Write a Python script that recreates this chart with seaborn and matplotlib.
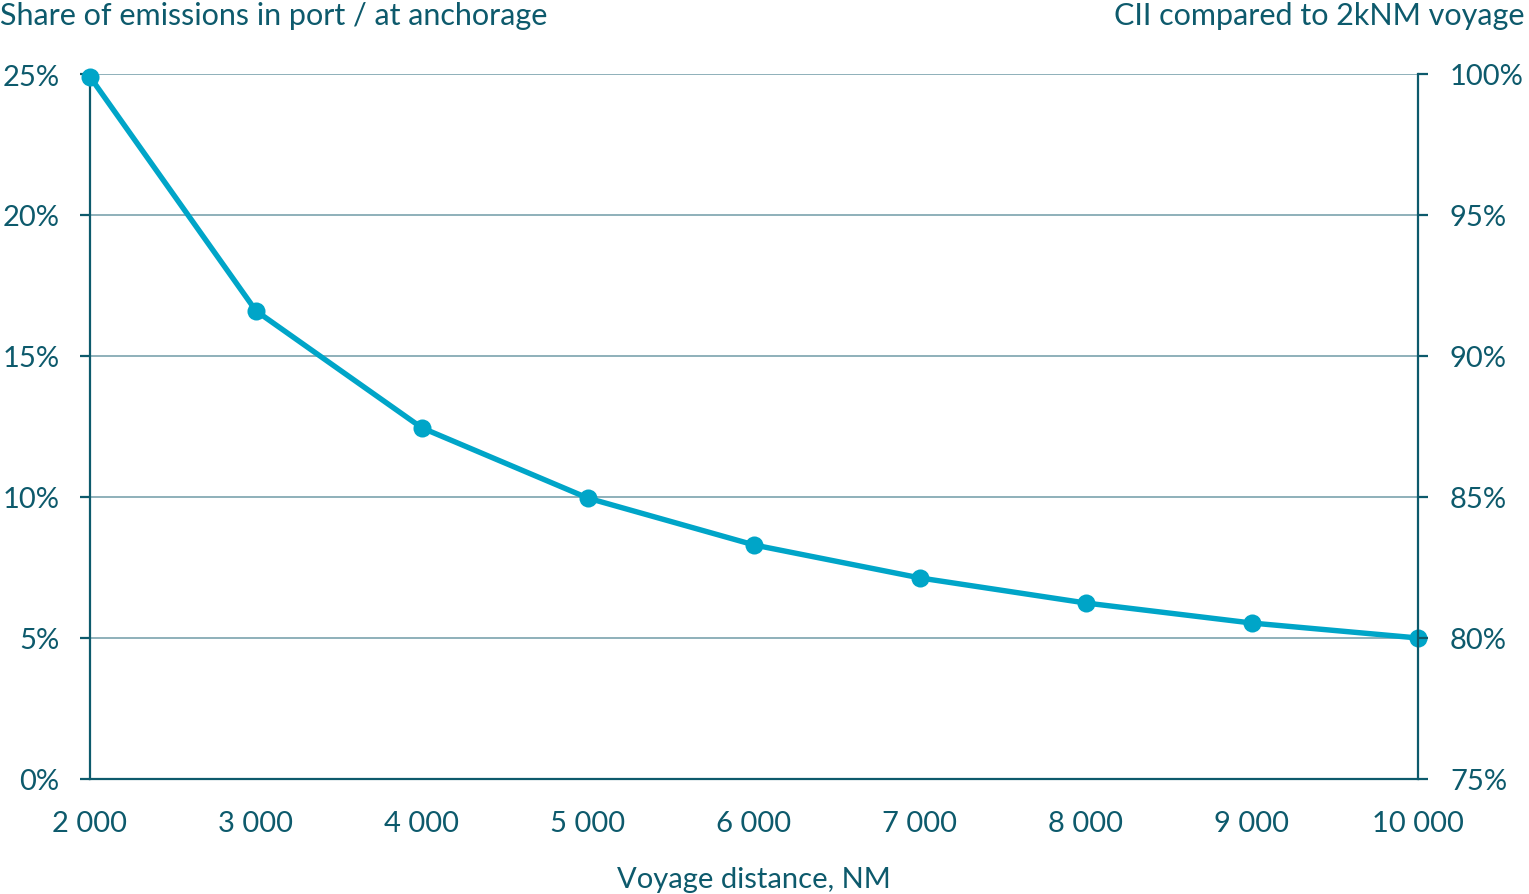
import matplotlib
matplotlib.use("Agg")
import matplotlib.pyplot as plt
import matplotlib.ticker as mticker
import seaborn as sns
import pandas as pd

distance = [2000, 3000, 4000, 5000, 6000, 7000, 8000, 9000, 10000]
share_pct = [24.9, 16.6, 12.45, 9.96, 8.3, 7.13, 6.24, 5.53, 5.0]
left_ticks = [0, 5, 10, 15, 20, 25]
right_ticks = [75, 80, 85, 90, 95, 100]

TXT = "#0d5a6c"
LINE = "#00a5c8"
GRID = "#86aab4"

sns.set_theme(style="white")
plt.rcParams['font.family'] = ['Lato', 'DejaVu Sans']

df = pd.DataFrame({"distance": distance, "share": share_pct})

fig = plt.figure(figsize=(15.29, 8.95), dpi=100)
ax = fig.add_axes([90/1529, 1-780/895, (1418-90)/1529, (780-75)/895])

for t in left_ticks[1:]:
    ax.axhline(t, color=GRID, lw=1.3, zorder=0)

sns.lineplot(data=df, x="distance", y="share", ax=ax, color=LINE, lw=3.9,
             marker="o", markersize=13, markeredgewidth=0, zorder=5, clip_on=False)

ax.set_xlim(2000, 10000)
ax.set_ylim(0, 25)
ax.set_xticks(distance)
ax.xaxis.set_major_formatter(mticker.FuncFormatter(lambda v, p: f"{int(v):,}".replace(",", " ")))
ax.set_yticks(left_ticks)
ax.yaxis.set_major_formatter(mticker.FuncFormatter(lambda v, p: f"{int(v)}%"))

ax2 = ax.twinx()
ax2.set_ylim(75, 100)
ax2.set_yticks(right_ticks)
ax2.yaxis.set_major_formatter(mticker.FuncFormatter(lambda v, p: f"{int(v)}%"))

FS = 21
for a in (ax, ax2):
    a.spines['top'].set_visible(False)
    for s in ('left', 'right', 'bottom'):
        a.spines[s].set_color(TXT)
        a.spines[s].set_linewidth(1.6)
    a.tick_params(colors=TXT, labelcolor=TXT, labelsize=FS, length=7, width=1.6, direction='out')
ax.spines['right'].set_visible(False)
ax2.spines['left'].set_visible(False)
ax2.spines['bottom'].set_visible(False)
ax.tick_params(axis='x', pad=15)
ax.tick_params(axis='y', pad=15)
ax2.tick_params(axis='y', pad=16)

ax.set_xlabel("Voyage distance, NM", color=TXT, fontsize=FS, labelpad=22)
ax.set_ylabel("")
ax.grid(False)
ax2.grid(False)

fig.text(0.0, 1-16/895, "Share of emissions in port / at anchorage", color=TXT,
         fontsize=22, ha='left', va='center')
fig.text(1525/1529, 1-16/895, "CII compared to 2kNM voyage", color=TXT,
         fontsize=22, ha='right', va='center')

fig.savefig("out.png", dpi=100)
